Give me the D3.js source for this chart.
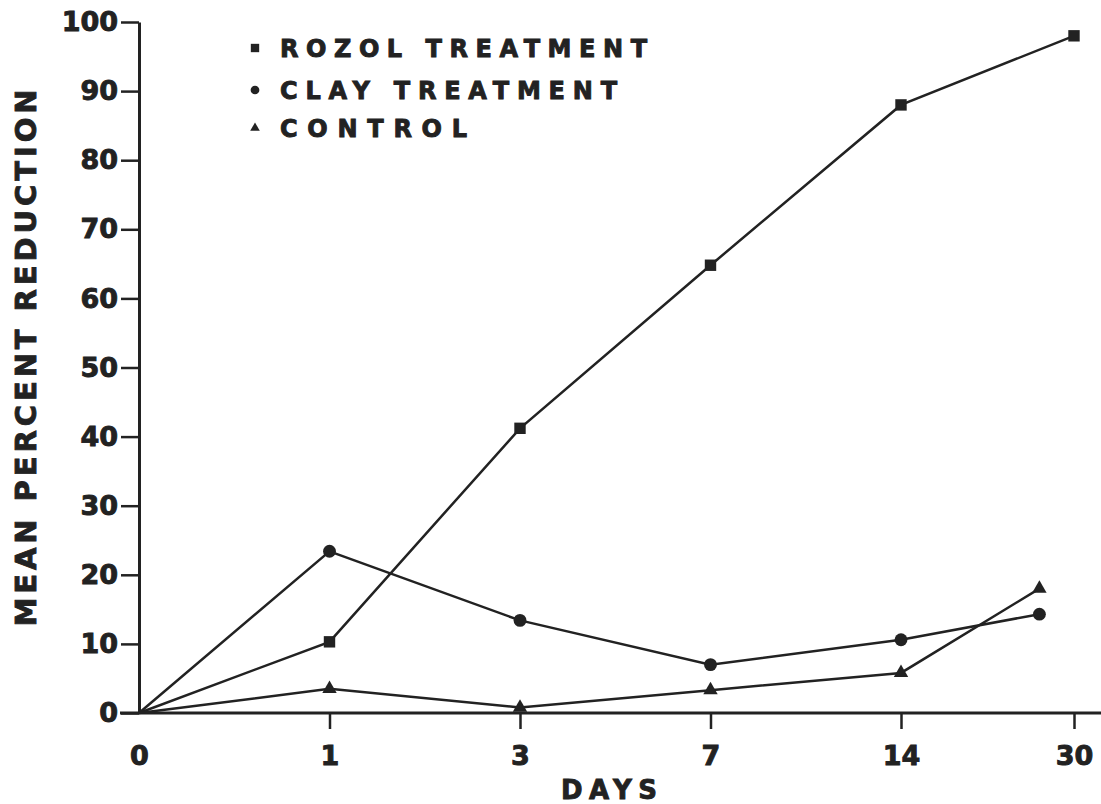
<!DOCTYPE html>
<html><head><meta charset="utf-8">
<script src="https://cdn.jsdelivr.net/npm/d3@7"></script>
<style>body{margin:0;background:#fff}svg{display:block}text{font-family:"DejaVu Sans",sans-serif;font-weight:bold;fill:#222;stroke:#222;stroke-width:0.9px}</style>
</head><body>
<svg id="c" width="1101" height="804"></svg>
<script>
// Day categories (equal-step category axis), positions by index
const dayLabels = ["0","1","3","7","14","30"];
const dayIndex  = [0, 1, 2, 3, 4, 5];
const yTicks = [0,10,20,30,40,50,60,70,80,90,100];

// Series: x = category index (last clay/control point lies before "30")
const rozolX = [0, 1, 2, 3, 4, 5];
const rozolY = [0, 10.3, 41.2, 64.8, 88, 98];
const clayX  = [0, 1, 2, 3, 4, 4.8];
const clayY  = [0, 23.4, 13.4, 7.0, 10.6, 14.3];
const ctrlX  = [0, 1, 2, 3, 4, 4.8];
const ctrlY  = [0, 3.5, 0.8, 3.3, 5.8, 18.0];

const legendNames = ["ROZOL TREATMENT","CLAY TREATMENT","CONTROL"];

const svg = d3.select("#c");
const ink = "#222";
const x = d3.scaleLinear().domain([0,4,5]).range([139,901,1074]);
const y = d3.scaleLinear().domain([0,100]).range([713,22]);

// Y axis
const ya = svg.append("g").attr("transform","translate(139,0)")
  .call(d3.axisLeft(y).tickValues(yTicks).tickSize(18).tickPadding(3).tickSizeOuter(0));
ya.select(".domain").attr("stroke",ink).attr("stroke-width",3);
ya.selectAll(".tick line").attr("stroke",ink).attr("stroke-width",2.5);
ya.selectAll(".tick text").style("font-size","27px").attr("fill",ink).attr("font-family","DejaVu Sans");

// X axis
const xa = svg.append("g").attr("transform","translate(0,"+y(0)+")")
  .call(d3.axisBottom(x).tickValues(dayIndex).tickFormat((d,i)=>dayLabels[i]).tickSize(16).tickPadding(17).tickSizeOuter(0));
xa.select(".domain").attr("d","M120,0H1101").attr("stroke",ink).attr("stroke-width",3);
xa.selectAll(".tick line").attr("stroke",ink).attr("stroke-width",2.5).filter(d=>d===0).remove();
xa.selectAll(".tick text").style("font-size","27px").attr("fill",ink).attr("font-family","DejaVu Sans");

// Axis titles
svg.append("text").attr("transform","translate(36,358) rotate(-90)").attr("text-anchor","middle")
  .style("font-size","29px").attr("textLength",537).attr("lengthAdjust","spacing").text("MEAN PERCENT REDUCTION");
svg.append("text").attr("x",609).attr("y",799).attr("text-anchor","middle")
  .style("font-size","26px").attr("textLength",96).attr("lengthAdjust","spacing").text("DAYS");

const line = d3.line().x(d=>x(d[0])).y(d=>y(d[1]));
const series = [
  {xs:rozolX, ys:rozolY, m:"square"},
  {xs:clayX,  ys:clayY,  m:"circle"},
  {xs:ctrlX,  ys:ctrlY,  m:"triangle"}
];
const sym = {square:d3.symbolSquare, circle:d3.symbolCircle, triangle:d3.symbolTriangle};
const size = {square:130, circle:130, triangle:90};

series.forEach(s=>{
  const pts = s.xs.map((v,i)=>[v,s.ys[i]]);
  svg.append("path").datum(pts).attr("d",line).attr("fill","none").attr("stroke",ink).attr("stroke-width",2.5);
  svg.selectAll(null).data(pts.slice(1)).enter().append("path")
    .attr("transform",d=>`translate(${x(d[0])},${y(d[1])})`)
    .attr("d",d3.symbol().type(sym[s.m]).size(size[s.m])).attr("fill",ink);
});

// Legend
const legY = [48, 90, 128];
const legW = [367, 337, 187];
const legSize = {square:70, circle:60, triangle:40};
series.forEach((s,i)=>{
  svg.append("path").attr("transform",`translate(255,${legY[i]})`)
    .attr("d",d3.symbol().type(sym[s.m]).size(legSize[s.m])).attr("fill",ink);
  svg.append("text").attr("x",280).attr("y",legY[i]+9).style("font-size","24px")
    .attr("textLength",legW[i]).attr("lengthAdjust","spacing").text(legendNames[i]);
});
</script>
</body></html>
